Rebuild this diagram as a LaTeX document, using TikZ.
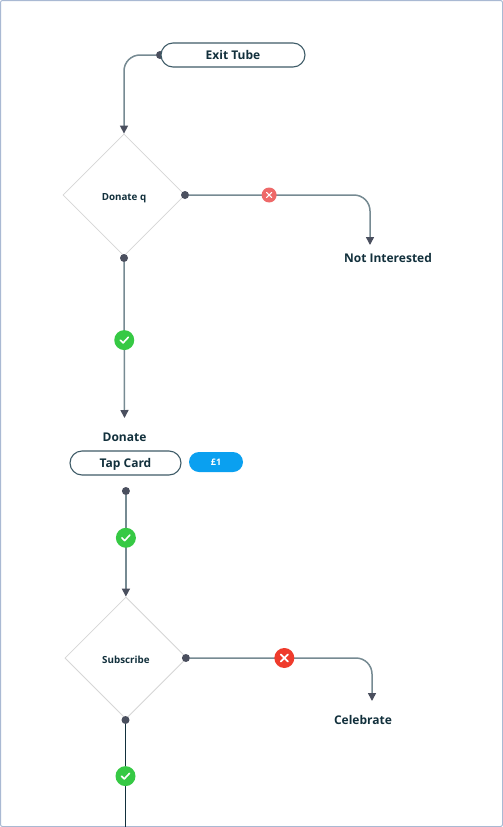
\documentclass[tikz,border=0pt]{standalone}
\usepackage{fontspec}
\setmainfont{Open Sans}
\usetikzlibrary{positioning,shapes.geometric,arrows.meta}
\definecolor{framec}{HTML}{A9B9D3}
\definecolor{edgec}{HTML}{768A92}
\definecolor{dotc}{HTML}{4A4F5E}
\definecolor{inkc}{HTML}{12303C}
\definecolor{pillc}{HTML}{3F5C68}
\definecolor{okc}{HTML}{36C944}
\definecolor{softnoc}{HTML}{EE6969}
\definecolor{hardnoc}{HTML}{EF3B2C}
\definecolor{pricec}{HTML}{0AA0F0}
\tikzset{
    lbl/.style={font=\fontsize{12}{14}\selectfont\bfseries, text=inkc, inner sep=0pt},
    pill/.style={draw=pillc, line width=1.1pt, fill=white, rounded corners=12pt, minimum height=24pt, inner sep=0pt, text height=9pt, text depth=0pt, font=\fontsize{12}{14}\selectfont\bfseries, text=inkc},
    pricepill/.style={fill=pricec, rounded corners=10pt, minimum width=54pt, minimum height=20pt, inner sep=0pt, text=white, font=\fontsize{9}{11}\selectfont\bfseries},
    decision/.style={diamond, draw=black!16, line width=0.8pt, fill=white, aspect=1, minimum size=122pt, inner sep=0pt, text height=10pt, text depth=0pt, text=inkc, font=\fontsize{9.8}{11}\selectfont\bfseries},
    port/.style={circle, fill=dotc, minimum size=8pt, inner sep=0pt},
    flow/.style={draw=edgec, line width=1.5pt, rounded corners=16pt, -{Triangle[length=8pt,width=8pt,color=dotc]}},
    tail/.style={draw=inkc, line width=1.3pt},
    okbadge/.style={circle, fill=okc, minimum size=20pt, inner sep=0pt, path picture={
        \draw[-, white, line width=1.6pt, line cap=round, line join=round]
            ([shift={(-4pt,0pt)}]path picture bounding box.center) -- ++(2.8pt,-2.8pt) -- ++(5.2pt,5.6pt);}},
    nobadge/.style={circle, fill=hardnoc, minimum size=20pt, inner sep=0pt, path picture={
        \draw[-, white, line width=1.8pt, line cap=round]
            ([shift={(-3.6pt,-3.6pt)}]path picture bounding box.center) -- ++(7.2pt,7.2pt)
            ([shift={(-3.6pt,3.6pt)}]path picture bounding box.center) -- ++(7.2pt,-7.2pt);}},
    softbadge/.style={circle, fill=softnoc, minimum size=15pt, inner sep=0pt, path picture={
        \draw[-, white, line width=1.1pt, line cap=round]
            ([shift={(-2.6pt,-2.6pt)}]path picture bounding box.center) -- ++(5.2pt,5.2pt)
            ([shift={(-2.6pt,2.6pt)}]path picture bounding box.center) -- ++(5.2pt,-5.2pt);}},
}
\begin{document}
\begin{tikzpicture}[x=1pt, y=-1pt, on grid]
    \useasboundingbox (0,0) rectangle (503,827);
    \draw[framec, line width=1pt, fill=white, rounded corners=2pt] (0.5,0.5) rectangle (502.5,826.5);

    % first question
    \node [port] (exit_out) at (160,55) {};
    \node [decision] (donate_q) at (124,195) {Donate q};
    \node [port, right=61pt of donate_q] (donate_no) {};
    \node [port, below=63pt of donate_q] (donate_yes) {};
    \draw [flow] (exit_out) -| (donate_q.north);
    \node [pill, minimum width=144pt, right=73pt of exit_out] (exit_tube) {Exit Tube};

    \node [lbl] (not_int) at (388,257.5) {Not Interested};
    \coordinate [above=12.5pt of not_int, xshift=-18pt] (not_int_in);
    \draw [flow] (donate_no) -| node [softbadge, pos=0.221] (donate_x) {} (not_int_in);

    % donate step
    \node [lbl] (donate) at (124.5,437) {Donate};
    \coordinate [above=19pt of donate] (donate_in);
    \draw [flow, rounded corners=0pt] (donate_yes) -- node [okbadge, pos=0.5] (donate_ok) {} (donate_in);
    \node [pill, minimum width=111pt, below=26pt of donate, xshift=1pt] (tap_card) {Tap Card};
    \node [pricepill, right=90.5pt of tap_card, yshift=1pt] (price) {£1};
    \node [port, below=28pt of tap_card, xshift=0.4pt] (tap_out) {};

    % second question
    \node [decision] (subscribe) at (125.9,658) {Subscribe};
    \draw [flow, rounded corners=0pt] (tap_out) -- node [okbadge, pos=0.42] (tap_ok) {} (subscribe.north);
    \node [port, right=60pt of subscribe] (subscribe_no) {};
    \node [port, below=62pt of subscribe, xshift=-0.4pt] (subscribe_yes) {};

    \node [lbl] (celebrate) at (363,719.5) {Celebrate};
    \coordinate [above=18.5pt of celebrate, xshift=9pt] (celebrate_in);
    \draw [flow] (subscribe_no) -| node [nobadge, pos=0.259] (subscribe_x) {} (celebrate_in);

    \coordinate (page_end) at (125.5,827);
    \draw [tail] (subscribe_yes) -- node [okbadge, pos=0.505] (subscribe_ok) {} (page_end);
\end{tikzpicture}
\end{document}
